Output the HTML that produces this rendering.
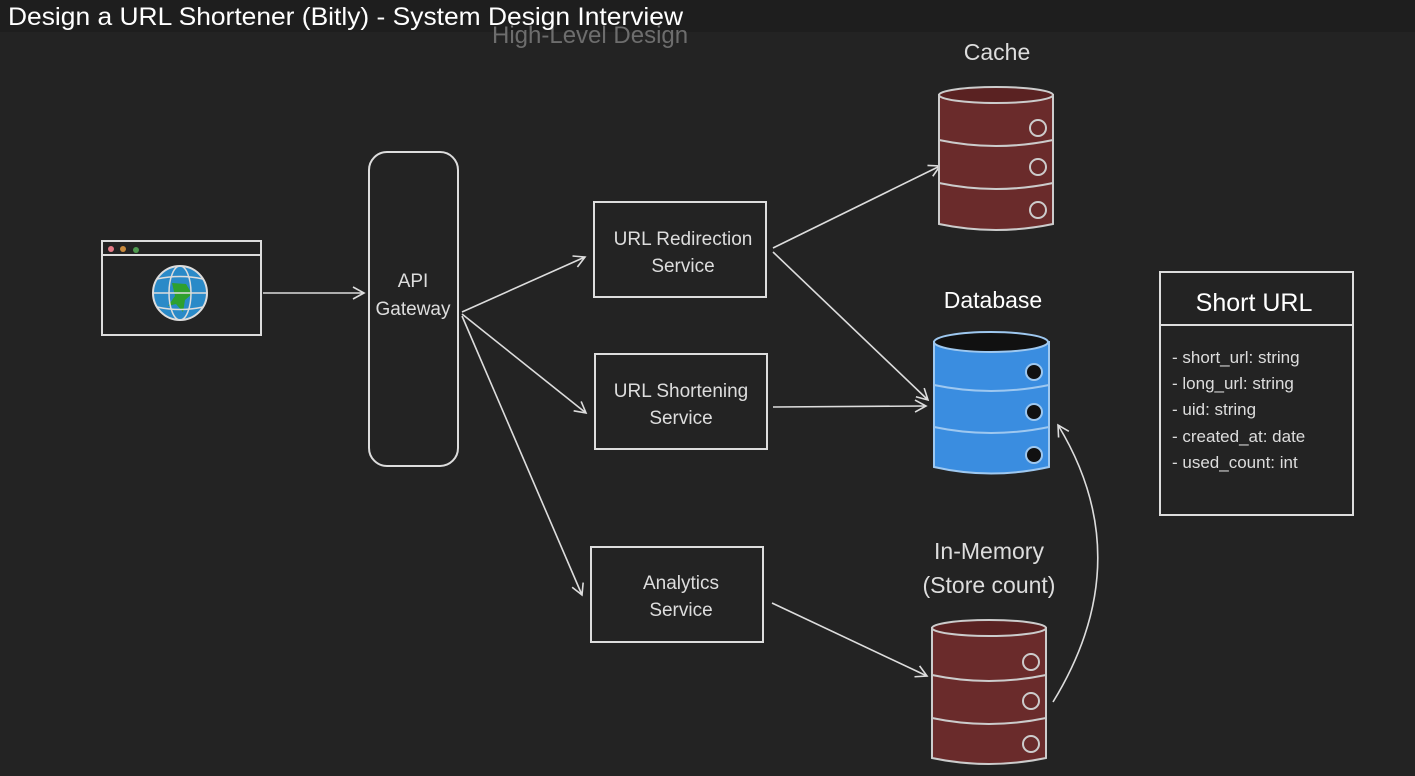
<!DOCTYPE html>
<html><head><meta charset="utf-8"><style>
html,body{margin:0;padding:0;background:#232323;}
svg{display:block}
text{font-family:"Liberation Sans",sans-serif;}
</style></head><body>
<svg width="1415" height="776" viewBox="0 0 1415 776" xmlns="http://www.w3.org/2000/svg">
<defs><marker id="a" markerWidth="14" markerHeight="14" refX="12" refY="7" orient="auto" markerUnits="userSpaceOnUse"><path d="M1,1 L12,7 L1,13" fill="none" stroke="#ddd" stroke-width="1.6"/></marker></defs>
<rect width="1415" height="776" fill="#232323"/>
<rect width="1415" height="32" fill="#1e1e1e"/>
<text x="492" y="43" font-size="24" fill="#6d6d6d">High-Level Design</text>
<text x="8" y="25" font-size="25" fill="#fff" textLength="675" lengthAdjust="spacingAndGlyphs">Design a URL Shortener (Bitly) - System Design Interview</text>
<g fill="none" stroke="#ddd" stroke-width="2">
<rect x="102" y="241" width="159" height="94"/>
<line x1="102" y1="255" x2="261" y2="255"/>
<rect x="369" y="152" width="89" height="314" rx="18"/>
<rect x="594" y="202" width="172" height="95"/>
<rect x="595" y="354" width="172" height="95"/>
<rect x="591" y="547" width="172" height="95"/>
<rect x="1160" y="272" width="193" height="243"/>
<line x1="1160" y1="325" x2="1353" y2="325"/>
</g>
<circle cx="111" cy="249" r="3" fill="#e57b86"/><circle cx="123" cy="249" r="3" fill="#c98a3c"/><circle cx="136" cy="250" r="3" fill="#4f9a4f"/>
<circle cx="180" cy="293" r="27" fill="#2a8ac8" stroke="#ddd" stroke-width="2"/>
<path d="M172,283 L186,284 L192,294 L185,300 L183,312 L176,304 L168,306 L175,296Z" fill="#2ea02e"/>
<g fill="none" stroke="#ddd" stroke-width="1.5"><ellipse cx="180" cy="293" rx="11" ry="27"/><line x1="153" y1="293" x2="207" y2="293"/><path d="M157,279 Q180,274 203,279 M157,307 Q180,312 203,307"/></g>
<g fill="#ddd" font-size="19" text-anchor="middle">
<text x="413" y="287">API</text><text x="413" y="315">Gateway</text>
<text x="683" y="245">URL Redirection</text><text x="683" y="272">Service</text>
<text x="681" y="397">URL Shortening</text><text x="681" y="424">Service</text>
<text x="681" y="589">Analytics</text><text x="681" y="616">Service</text>
<text x="997" y="60" font-size="23">Cache</text>
<text x="993" y="308" font-size="23" fill="#fff">Database</text>
<text x="989" y="559" font-size="23">In-Memory</text>
<text x="989" y="593" font-size="23">(Store count)</text>
<text x="1254" y="311" font-size="25" fill="#fff">Short URL</text>
</g>
<g fill="#ddd" font-size="17">
<text x="1172" y="363">- short_url: string</text>
<text x="1172" y="389">- long_url: string</text>
<text x="1172" y="415">- uid: string</text>
<text x="1172" y="442">- created_at: date</text>
<text x="1172" y="468">- used_count: int</text>
</g>
<g fill="none" stroke="#ddd" stroke-width="1.6" marker-end="url(#a)">
<line x1="263" y1="293" x2="364" y2="293"/>
<line x1="462" y1="312" x2="585" y2="257"/>
<line x1="462" y1="314" x2="586" y2="413"/>
<line x1="462" y1="316" x2="582" y2="595"/>
<line x1="773" y1="248" x2="940" y2="166"/>
<line x1="773" y1="252" x2="928" y2="400"/>
<line x1="773" y1="407" x2="926" y2="406"/>
<line x1="772" y1="603" x2="927" y2="676"/>
<path d="M1053,702 Q1140,560 1058,425"/>
</g>
<g stroke="#ccc" stroke-width="2">
<path d="M939,95 L939,224 Q996,236 1053,224 L1053,95Z" fill="#6a2b2b"/>
<ellipse cx="996" cy="95" rx="57" ry="8" fill="#5a2222"/>
<path d="M939,140 Q996,152 1053,140 M939,183 Q996,195 1053,183" fill="none"/>
<g fill="none"><circle cx="1038" cy="128" r="8"/><circle cx="1038" cy="167" r="8"/><circle cx="1038" cy="210" r="8"/></g>
</g>
<g stroke="#9ec8f0" stroke-width="2">
<path d="M934,342 L934,467 Q991,480 1049,467 L1049,342Z" fill="#3a8de0"/>
<ellipse cx="991" cy="342" rx="57" ry="10" fill="#111"/>
<path d="M934,385 Q991,397 1049,385 M934,427 Q991,439 1049,427" fill="none"/>
<g fill="#111"><circle cx="1034" cy="372" r="8"/><circle cx="1034" cy="412" r="8"/><circle cx="1034" cy="455" r="8"/></g>
</g>
<g stroke="#ccc" stroke-width="2">
<path d="M932,628 L932,758 Q989,770 1046,758 L1046,628Z" fill="#6a2b2b"/>
<ellipse cx="989" cy="628" rx="57" ry="8" fill="#5a2222"/>
<path d="M932,675 Q989,687 1046,675 M932,718 Q989,730 1046,718" fill="none"/>
<g fill="none"><circle cx="1031" cy="662" r="8"/><circle cx="1031" cy="701" r="8"/><circle cx="1031" cy="744" r="8"/></g>
</g>
</svg>
</body></html>
